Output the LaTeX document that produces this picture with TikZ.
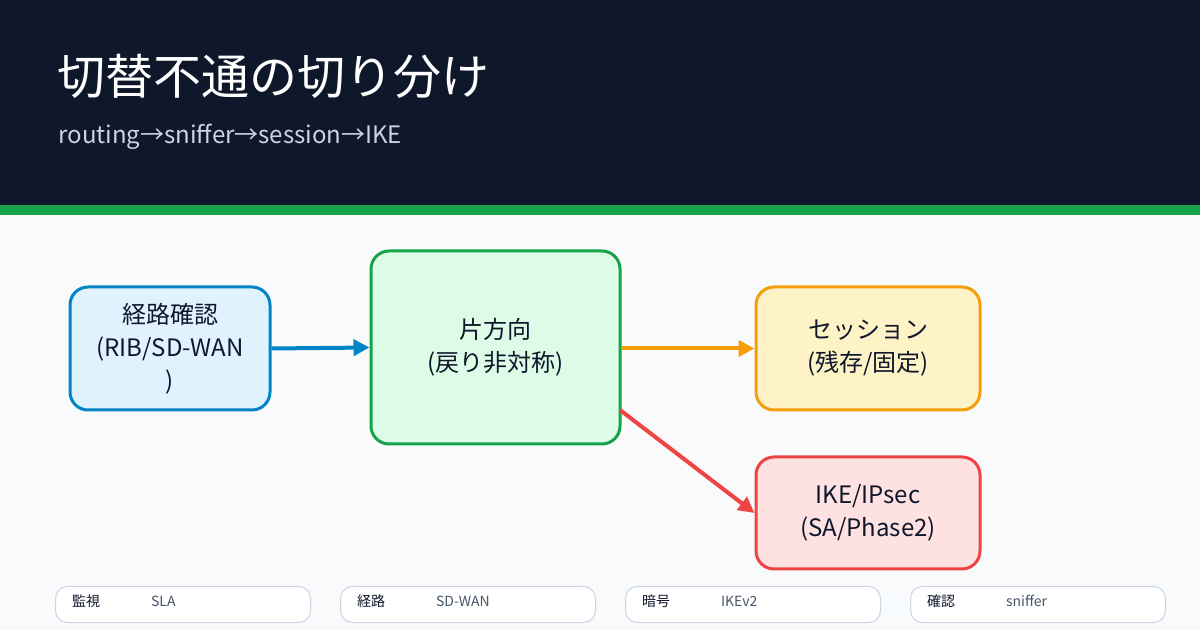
\documentclass[tikz,border=0pt]{standalone}
\usepackage{fontspec}
\setmainfont{Noto Sans CJK JP}
\usetikzlibrary{arrows.meta, positioning}
\definecolor{hdr}{HTML}{0F172A}
\definecolor{bandgreen}{HTML}{16A34A}
\definecolor{pagebg}{HTML}{F8FAFC}
\definecolor{subgray}{HTML}{CBD5E1}
\definecolor{txt}{HTML}{0F172A}
\definecolor{pillgray}{HTML}{475569}
\definecolor{routeline}{HTML}{0284C7}
\definecolor{routefill}{HTML}{E0F2FE}
\definecolor{onewayfill}{HTML}{DCFCE7}
\definecolor{sessline}{HTML}{F59E0B}
\definecolor{sessfill}{HTML}{FEF3C7}
\definecolor{ikeline}{HTML}{EF4444}
\definecolor{ikefill}{HTML}{FEE2E2}
\tikzset{
  stage/.style={rectangle, rounded corners=9pt, line width=1.5pt, align=center, text=txt, font=\fontsize{12}{16.5}\selectfont, inner sep=0pt},
  pill/.style={rectangle, rounded corners=6pt, draw=subgray, fill=white, line width=0.5pt, minimum width=127.5pt, minimum height=18pt},
  pilltag/.style={font=\fontsize{7}{8}\selectfont, text=txt, anchor=west},
  pillval/.style={font=\fontsize{7}{8}\selectfont, text=pillgray, anchor=west},
  arrow/.style={line width=2pt, -{Triangle[length=8pt, width=8pt]}}
}
\begin{document}
\begin{tikzpicture}[x=0.5pt, y=-0.5pt]
\useasboundingbox (0,0) rectangle (1200,630);
\fill[pagebg] (0,0) rectangle (1200,630);
\fill[hdr] (0,0) rectangle (1200,205);
\fill[bandgreen] (0,205) rectangle (1200,215);

% Header
\node (title) [anchor=base west, text=white, font=\fontsize{24}{27}\selectfont, inner sep=0pt] at (57,95) {切替不通の切り分け};
\node (subtitle) [anchor=base west, text=subgray, font=\fontsize{12}{14}\selectfont, inner sep=0pt] at (58,144) {routing→sniffer→session→IKE};

% Stages
\node (route) [stage, draw=routeline, fill=routefill, minimum width=100pt, minimum height=61.5pt] at (170,348.5) {経路確認\\(RIB/SD-WAN\\)};
\node (oneway) [stage, draw=bandgreen, fill=onewayfill, minimum width=124.5pt, minimum height=96.5pt] at (495.5,347.5) {片方向\\(戻り非対称)};
\node (session) [stage, draw=sessline, fill=sessfill, minimum width=112pt, minimum height=61.5pt] at (868,348.5) {セッション\\(残存/固定)};
\node (ike) [stage, draw=ikeline, fill=ikefill, minimum width=112pt, minimum height=56pt] at (868,513) {IKE/IPsec\\(SA/Phase2)};

% Arrows
\coordinate (rs) at (620,410);
\draw [arrow, draw=routeline] (route.east) -- (oneway.west);
\draw [arrow, draw=sessline] (oneway.east |- session.west) -- (session.west);
\draw [arrow, draw=ikeline] (rs) -- (ike.west);

% Footer pills
\foreach \x/\tag/\val [count=\i] in {55/監視/SLA, 340/経路/SD-WAN, 625/暗号/IKEv2, 910/確認/sniffer} {
  \node (pill\i) [pill, anchor=north west] at (\x,586) {};
  \node [pilltag] at (\x+10,601) {\tag};
  \node [pillval] at (\x+89,601) {\val};
}
\end{tikzpicture}
\end{document}
